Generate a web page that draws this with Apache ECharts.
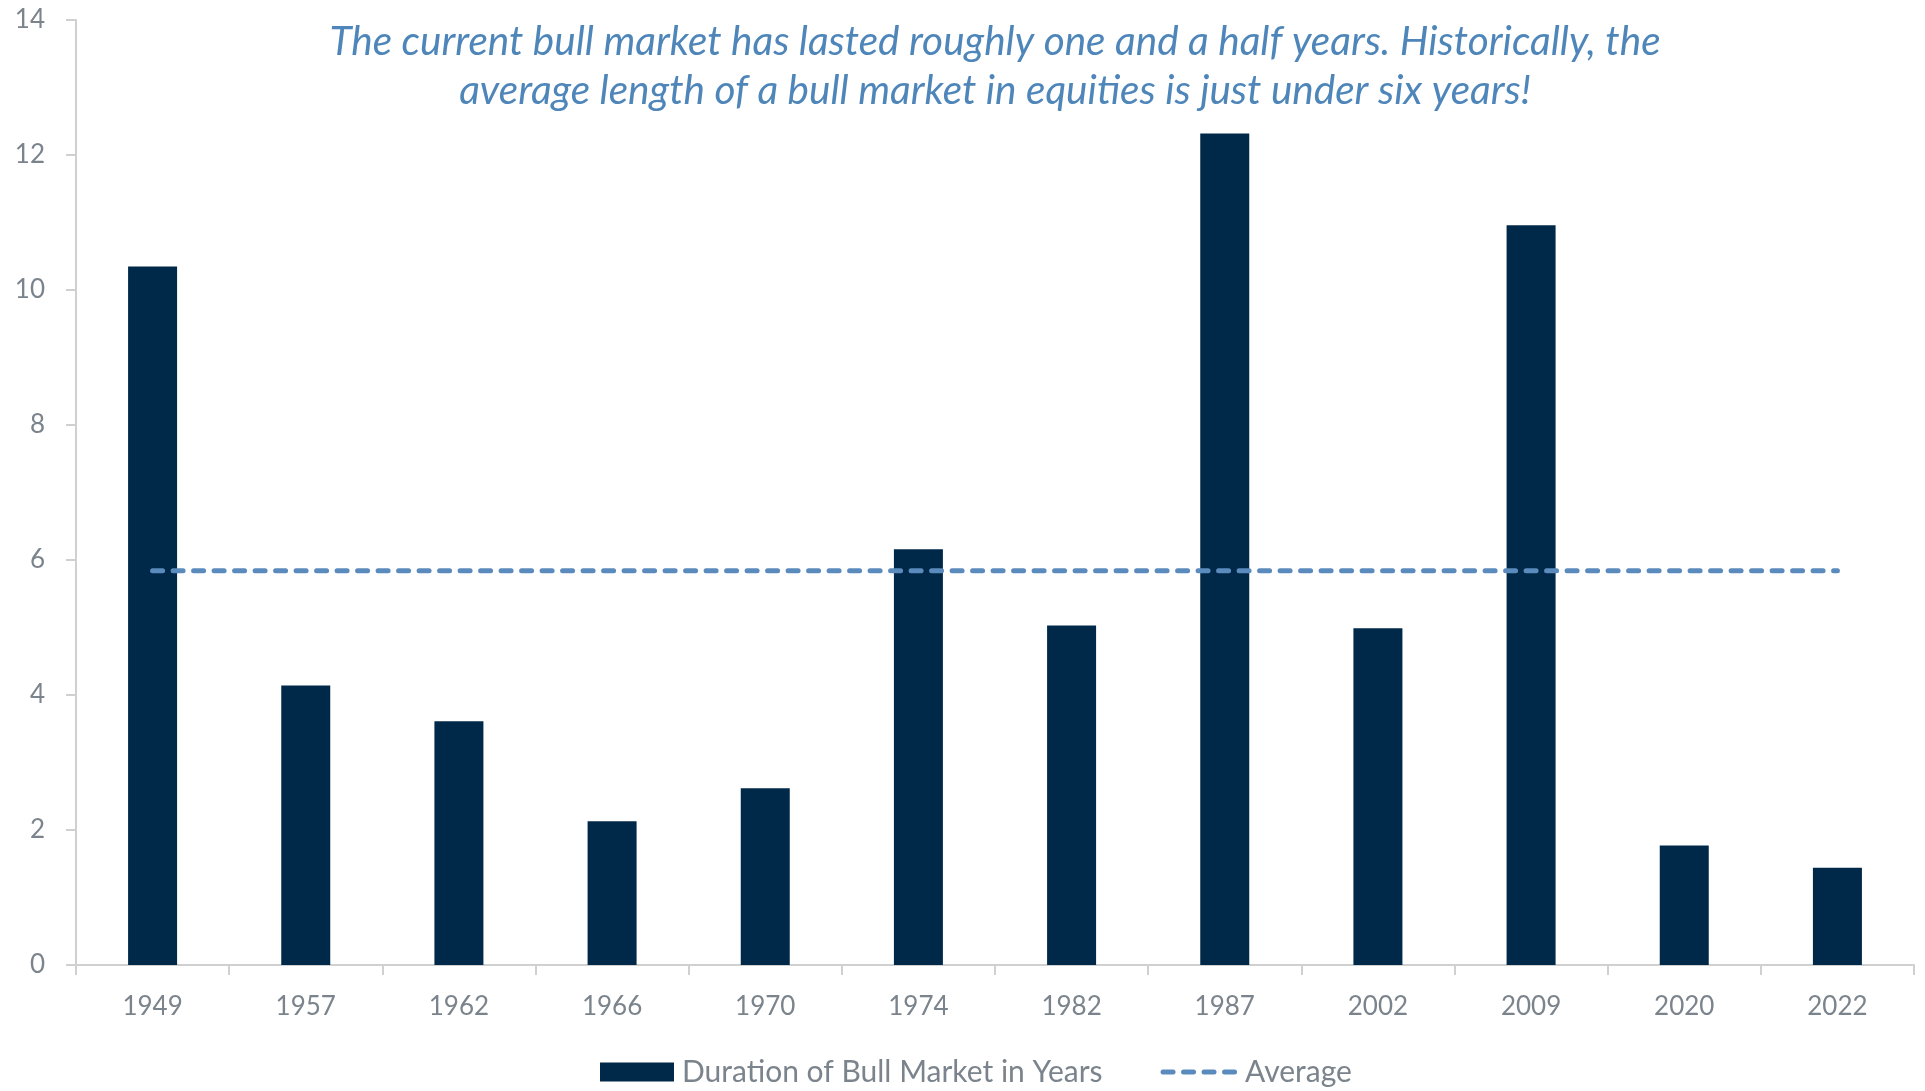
<!DOCTYPE html>
<html>
<head>
<meta charset="utf-8">
<script src="https://cdn.jsdelivr.net/npm/echarts@6/dist/echarts.min.js"></script>
<style>
html,body{margin:0;padding:0;background:#fff;}
#chart{width:1925px;height:1091px;}
</style>
</head>
<body>
<div id="chart"></div>
<script>
const categories = ['1949','1957','1962','1966','1970','1974','1982','1987','2002','2009','2020','2022'];
const durationYears = [10.35, 4.14, 3.61, 2.13, 2.62, 6.16, 5.03, 12.32, 4.99, 10.96, 1.77, 1.44];
const averageYears = [5.84, 5.84, 5.84, 5.84, 5.84, 5.84, 5.84, 5.84, 5.84, 5.84, 5.84, 5.84];
const yTicks = { min: 0, max: 14, interval: 2 };
const titleText = 'The current bull market has lasted roughly one and a half years. Historically, the\naverage length of a bull market in equities is just under six years!';

const FONT = 'Lato, "Noto Sans", sans-serif';
const GRAY = '#7b848c';
const DASH = { color: '#5b8bbd', width: 5, type: [10, 10.5], cap: 'round' };
const chart = echarts.init(document.getElementById('chart'), null, {renderer: 'canvas'});
chart.setOption({
  animation: false,
  backgroundColor: '#ffffff',
  title: {
    text: titleText,
    left: 995,
    top: 17,
    padding: 0,
    textAlign: 'center',
    textStyle: {
      fontFamily: FONT,
      fontStyle: 'italic',
      fontWeight: 'normal',
      fontSize: 40.5,
      lineHeight: 49,
      color: '#4f86ba'
    }
  },
  legend: {
    left: 600,
    top: 1057,
    padding: 0,
    itemWidth: 74,
    itemHeight: 19,
    itemGap: 58,
    textStyle: { fontFamily: FONT, fontSize: 30, color: GRAY, padding: [0, 0, 0, 3] },
    data: [
      { name: 'Duration of Bull Market in Years', icon: 'rect' },
      { name: 'Average', itemStyle: { opacity: 0, color: 'rgba(0,0,0,0)' }, lineStyle: DASH }
    ]
  },
  grid: { left: 76, right: 11, top: 20, bottom: 126, containLabel: false },
  xAxis: {
    type: 'category',
    data: categories,
    boundaryGap: true,
    axisLine: { show: true, lineStyle: { color: '#d0d0d0', width: 2 } },
    axisTick: { show: true, length: 10, lineStyle: { color: '#d0d0d0', width: 2 } },
    axisLabel: { fontFamily: FONT, fontSize: 26, color: GRAY, margin: 29 },
    splitLine: { show: false }
  },
  yAxis: {
    type: 'value',
    min: yTicks.min,
    max: yTicks.max,
    interval: yTicks.interval,
    axisLine: { show: true, lineStyle: { color: '#d0d0d0', width: 2 } },
    axisTick: { show: true, length: 10, lineStyle: { color: '#d0d0d0', width: 2 } },
    axisLabel: { fontFamily: FONT, fontSize: 26, color: GRAY, margin: 31 },
    splitLine: { show: false }
  },
  series: [
    {
      name: 'Duration of Bull Market in Years',
      type: 'bar',
      data: durationYears,
      barWidth: 49,
      itemStyle: { color: '#002849' }
    },
    {
      name: 'Average',
      type: 'line',
      data: averageYears,
      symbol: 'none',
      itemStyle: { color: '#5b8bbd' },
      lineStyle: DASH,
      z: 5
    }
  ]
});
</script>
</body>
</html>
